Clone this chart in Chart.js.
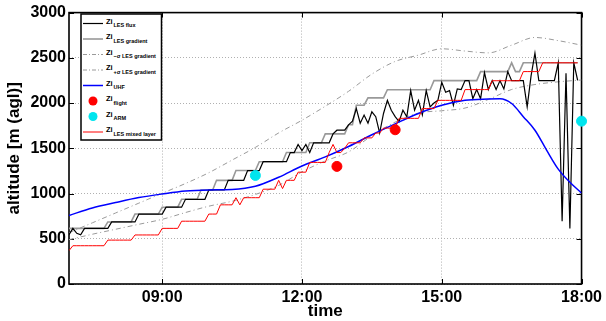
<!DOCTYPE html>
<html>
<head>
<meta charset="utf-8">
<script src="https://cdn.jsdelivr.net/npm/chart.js@4.4.1/dist/chart.umd.min.js"></script>
<style>
    html, body { margin: 0; padding: 0; background: #fff; }
    #wrap { position: relative; width: 606px; height: 321px; }
    #chart { position: absolute; left: 0; top: 0; }
    #legend { position: absolute; left: 0; top: 0; }
</style>
</head>
<body>
<div id="wrap">
    <canvas id="chart" width="606" height="321"></canvas>
    <svg id="legend" width="606" height="321" xmlns="http://www.w3.org/2000/svg"></svg>
</div>
<script>
// LES output every 5 minutes, 07:00 - 17:55 (hours as decimals)
const lesTimes = [];
for (let i = 0; i < 132; i++) lesTimes.push(7 + i / 12);

// Zi from LES flux (m agl)
const ziLesFlux = [
    545, 615, 560, 545, 615, 615, 615, 615, 615, 615, 615, 686,
    686, 686, 686, 686, 686, 686, 773, 773, 773, 773, 773, 773,
    773, 849, 849, 849, 849, 849, 936, 936, 936, 936, 936, 936,
    1039, 1039, 1039, 1039, 1039, 1146, 1146, 1146, 1146, 1146, 1254, 1254,
    1254, 1254, 1352, 1352, 1352, 1352, 1352, 1352, 1352, 1453, 1453, 1543,
    1475, 1543, 1453, 1561, 1561, 1561, 1561, 1561, 1659, 1700, 1700, 1700,
    1760, 1800, 1939, 1777, 1867, 1777, 1903, 1849, 1669, 1885, 2030, 1921,
    1850, 1795, 1921, 1849, 2138, 1921, 2030, 1870, 2138, 1958, 2000, 2030,
    2229, 2120, 2138, 1976, 2156, 2149, 2248, 2248, 2048, 2149, 2048, 2337,
    2149, 2248, 2149, 2248, 2156, 2348, 2248, 2248, 2248, 2248, 1958, 2300,
    2553, 2248, 2248, 2248, 2248, 2248, 2445, 694, 2330, 614, 2445, 2250
];

// Zi from LES gradient
const ziLesGradient = [
    615, 615, 615, 615, 615, 615, 615, 615, 615, 615, 686, 686,
    686, 686, 686, 686, 686, 773, 773, 773, 773, 773, 773, 773,
    849, 849, 849, 849, 849, 936, 936, 936, 936, 936, 1039, 1039,
    1039, 1039, 1146, 1146, 1146, 1146, 1146, 1254, 1254, 1254, 1254, 1254,
    1254, 1352, 1352, 1352, 1352, 1352, 1352, 1352, 1453, 1453, 1453, 1453,
    1453, 1453, 1561, 1561, 1561, 1561, 1659, 1659, 1659, 1659, 1659, 1659,
    1760, 1760, 1976, 1976, 1976, 2057, 2057, 2057, 2057, 2057, 2147, 2147,
    2147, 2147, 2147, 2147, 2147, 2147, 2147, 2147, 2147, 2147, 2248, 2248,
    2248, 2248, 2248, 2248, 2248, 2248, 2248, 2248, 2248, 2248, 2348, 2348,
    2348, 2348, 2348, 2348, 2348, 2348, 2445, 2348, 2348, 2445, 2445, 2445,
    2445, 2445, 2445, 2445, 2445, 2445, 2445, 2445, 2445, 2445, 2445, 2445
];

// Zi from LES mixed layer
const ziLesMixed = [
    369, 423, 423, 423, 423, 423, 423, 423, 423, 423, 485, 485,
    485, 485, 485, 485, 485, 542, 542, 542, 542, 542, 542, 542,
    615, 615, 615, 615, 615, 694, 694, 694, 694, 694, 694, 694,
    773, 773, 773, 875, 875, 875, 875, 954, 875, 954, 954, 954,
    954, 954, 1048, 1048, 1048, 1048, 1146, 1055, 1146, 1146, 1146, 1236,
    1236, 1236, 1344, 1344, 1344, 1344, 1344, 1453, 1543, 1453, 1453, 1500,
    1561, 1561, 1561, 1561, 1615, 1615, 1615, 1669, 1669, 1723, 1723, 1723,
    1723, 1831, 1831, 1831, 1831, 1831, 1831, 1939, 1939, 1939, 1939, 2030,
    2030, 2030, 2030, 2030, 2030, 2030, 2149, 2149, 2149, 2149, 2149, 2149,
    2149, 2247, 2247, 2247, 2247, 2247, 2247, 2247, 2247, 2348, 2348, 2348,
    2348, 2348, 2445, 2445, 2445, 2445, 2445, 2445, 2445, 2445, 2445, 2445
];

// -sigma / +sigma envelopes of the LES gradient, half hourly
const sigmaTimes = [7, 7.5, 8, 8.5, 9, 9.5, 10, 10.5, 11, 11.5, 12, 12.5,
                    13, 13.5, 14, 14.5, 15, 15.5, 16, 16.5, 17, 17.5, 18];
const ziMinusSigma = [567, 676, 785, 894, 1003, 1111, 1230, 1370, 1510, 1670, 1810, 1965,
                      2130, 2320, 2460, 2530, 2600, 2575, 2555, 2640, 2725, 2690, 2640];
const ziPlusSigma = [490, 550, 605, 660, 715, 790, 860, 915, 990, 1090, 1240, 1360,
                     1460, 1640, 1790, 1890, 1915, 1945, 2040, 2150, 2205, 2235, 2255];

// UHF wind profiler
const uhfTimes = [7, 7.5, 8, 8.5, 9, 9.5, 10, 10.5, 11, 11.5, 12, 12.5, 13, 13.5,
                  14, 14.5, 15, 15.5, 16, 16.25, 16.5, 16.75, 17, 17.25, 17.5, 17.75, 18];
const ziUhf = [758, 840, 900, 955, 995, 1028, 1040, 1045, 1080, 1180, 1305, 1405, 1520, 1650,
               1770, 1885, 1975, 2030, 2045, 2048, 1995, 1850, 1700, 1480, 1270, 1125, 1005];

// aircraft and ARM estimates
const flightTimes = [12.75, 14.0];
const ziFlight = [1300, 1705];
const armTimes = [11.0, 18.0];
const ziArm = [1200, 1800];

// axis ticks
const xTickValues = [9, 12, 15, 18];
const xTickLabels = ['09:00', '12:00', '15:00', '18:00'];
const yTickValues = [0, 500, 1000, 1500, 2000, 2500, 3000];
const yTickLabels = ['0', '500', '1000', '1500', '2000', '2500', '3000'];

const FONT = '"Liberation Sans", Arial, Helvetica, sans-serif';

const toPoints = (xs, ys) => ys.map((y, i) => ({ x: xs[i], y: y }));

// axes box with inward ticks, matlab style
const boxPlugin = {
    id: 'box',
    beforeDatasetsDraw(chart) {
        const { ctx, chartArea: a, scales } = chart;
        ctx.save();
        ctx.strokeStyle = '#000';
        ctx.lineWidth = 1;
        ctx.beginPath();
        xTickValues.forEach(v => {
            const px = Math.round(scales.x.getPixelForValue(v)) + 0.5;
            ctx.moveTo(px, a.bottom); ctx.lineTo(px, a.bottom - 5);
            ctx.moveTo(px, a.top); ctx.lineTo(px, a.top + 5);
        });
        yTickValues.forEach(v => {
            const py = Math.round(scales.y.getPixelForValue(v)) + 0.5;
            ctx.moveTo(a.left, py); ctx.lineTo(a.left + 5, py);
            ctx.moveTo(a.right, py); ctx.lineTo(a.right - 5, py);
        });
        ctx.stroke();
        ctx.lineWidth = 1.6;
        ctx.strokeRect(a.left, a.top, a.right - a.left, a.bottom - a.top);
        ctx.restore();
    }
};

const ctx = document.getElementById('chart').getContext('2d');
new Chart(ctx, {
    type: 'line',
    data: {
        datasets: [
            { label: 'Zi ARM', data: toPoints(armTimes, ziArm), showLine: false,
              pointRadius: 5, pointBackgroundColor: '#00e5ee', pointBorderColor: '#00e5ee',
              clip: false, order: 0 },
            { label: 'Zi flight', data: toPoints(flightTimes, ziFlight), showLine: false,
              pointRadius: 5, pointBackgroundColor: '#ff0000', pointBorderColor: '#ff0000',
              clip: false, order: 0 },
            { label: 'Zi LES mixed layer', data: toPoints(lesTimes, ziLesMixed),
              borderColor: '#ff0000', borderWidth: 1, order: 1 },
            { label: 'Zi UHF', data: toPoints(uhfTimes, ziUhf), borderColor: '#0000ff',
              borderWidth: 1.5, cubicInterpolationMode: 'monotone', order: 2 },
            { label: 'Zi LES flux', data: toPoints(lesTimes, ziLesFlux),
              borderColor: '#000000', borderWidth: 1.2, order: 3 },
            { label: 'Zi LES gradient', data: toPoints(lesTimes, ziLesGradient),
              borderColor: '#999999', borderWidth: 1.6, order: 4 },
            { label: 'Zi -sigma LES gradient', data: toPoints(sigmaTimes, ziMinusSigma),
              borderColor: '#9a9a9a', borderWidth: 1, borderDash: [5, 3, 1, 3],
              cubicInterpolationMode: 'monotone', order: 5 },
            { label: 'Zi +sigma LES gradient', data: toPoints(sigmaTimes, ziPlusSigma),
              borderColor: '#9a9a9a', borderWidth: 1, borderDash: [5, 3, 1, 3],
              cubicInterpolationMode: 'monotone', order: 5 }
        ]
    },
    options: {
        responsive: false,
        animation: false,
        devicePixelRatio: 1,
        layout: { padding: { top: 7, right: 24, left: 0, bottom: 0 } },
        elements: { point: { radius: 0 }, line: { tension: 0 } },
        plugins: { legend: { display: false }, tooltip: { enabled: false } },
        scales: {
            x: {
                type: 'linear', min: 7, max: 18,
                afterFit: s => { s.height = 37; },
                afterBuildTicks: s => { s.ticks = xTickValues.map(v => ({ value: v })); },
                ticks: {
                    callback: v => xTickLabels[xTickValues.indexOf(v)],
                    color: '#000', padding: 4, maxRotation: 0, autoSkip: false,
                    font: { family: FONT, size: 16, weight: 'bold' }
                },
                grid: { color: '#b0b0b0', lineWidth: 1, drawTicks: false },
                border: { display: false, dash: [1, 2] },
                title: {
                    display: true, text: 'time', color: '#000',
                    font: { family: FONT, size: 17, weight: 'bold', lineHeight: 1 },
                    padding: { top: 0, bottom: 1 }
                }
            },
            y: {
                type: 'linear', min: 0, max: 3000,
                afterFit: s => { s.width = 69; },
                afterBuildTicks: s => { s.ticks = yTickValues.map(v => ({ value: v })); },
                ticks: {
                    callback: v => yTickLabels[yTickValues.indexOf(v)],
                    color: '#000', padding: 3,
                    font: { family: FONT, size: 16, weight: 'bold' }
                },
                grid: { color: '#b0b0b0', lineWidth: 1, drawTicks: false },
                border: { display: false, dash: [1, 2] },
                title: {
                    display: true, text: 'altitude [m (agl)]', color: '#000',
                    font: { family: FONT, size: 17, weight: 'bold' },
                    padding: { top: 4, bottom: 0 }
                }
            }
        }
    },
    plugins: [boxPlugin]
});

// legend with subscripted labels
const legendItems = [
    { sub: 'LES flux', kind: 'line', color: '#000000', width: 1.2 },
    { sub: 'LES gradient', kind: 'line', color: '#999999', width: 1.6 },
    { sub: '\u2212\u03c3 LES gradient', kind: 'dash', color: '#9a9a9a', width: 1 },
    { sub: '+\u03c3 LES gradient', kind: 'dash', color: '#9a9a9a', width: 1 },
    { sub: 'UHF', kind: 'line', color: '#0000ff', width: 1.5 },
    { sub: 'flight', kind: 'dot', color: '#ff0000' },
    { sub: 'ARM', kind: 'dot', color: '#00e5ee' },
    { sub: 'LES mixed layer', kind: 'line', color: '#ff0000', width: 1 }
];

const svg = document.getElementById('legend');
const NS = 'http://www.w3.org/2000/svg';
function el(name, attrs, text) {
    const e = document.createElementNS(NS, name);
    Object.keys(attrs).forEach(k => e.setAttribute(k, attrs[k]));
    if (text !== undefined) e.textContent = text;
    svg.appendChild(e);
    return e;
}
el('rect', { x: 81, y: 14, width: 80.5, height: 126, fill: '#fff', stroke: '#000', 'stroke-width': 1.5 });
legendItems.forEach((item, i) => {
    const y = 23.5 + i * 15.5;
    if (item.kind === 'dot') {
        el('circle', { cx: 93, cy: y, r: 4.5, fill: item.color });
    } else {
        const attrs = { x1: 83, x2: 103, y1: y, y2: y, stroke: item.color, 'stroke-width': item.width };
        if (item.kind === 'dash') attrs['stroke-dasharray'] = '4 2 1 2';
        el('line', attrs);
    }
    el('text', { x: 106, y: y, 'font-family': FONT, 'font-size': 7.5, 'font-weight': 'bold' }, 'Zi');
    el('text', { x: 113.5, y: y + 3.5, 'font-family': FONT, 'font-size': 5.5, 'font-weight': 'bold' }, item.sub);
});
</script>
</body>
</html>
